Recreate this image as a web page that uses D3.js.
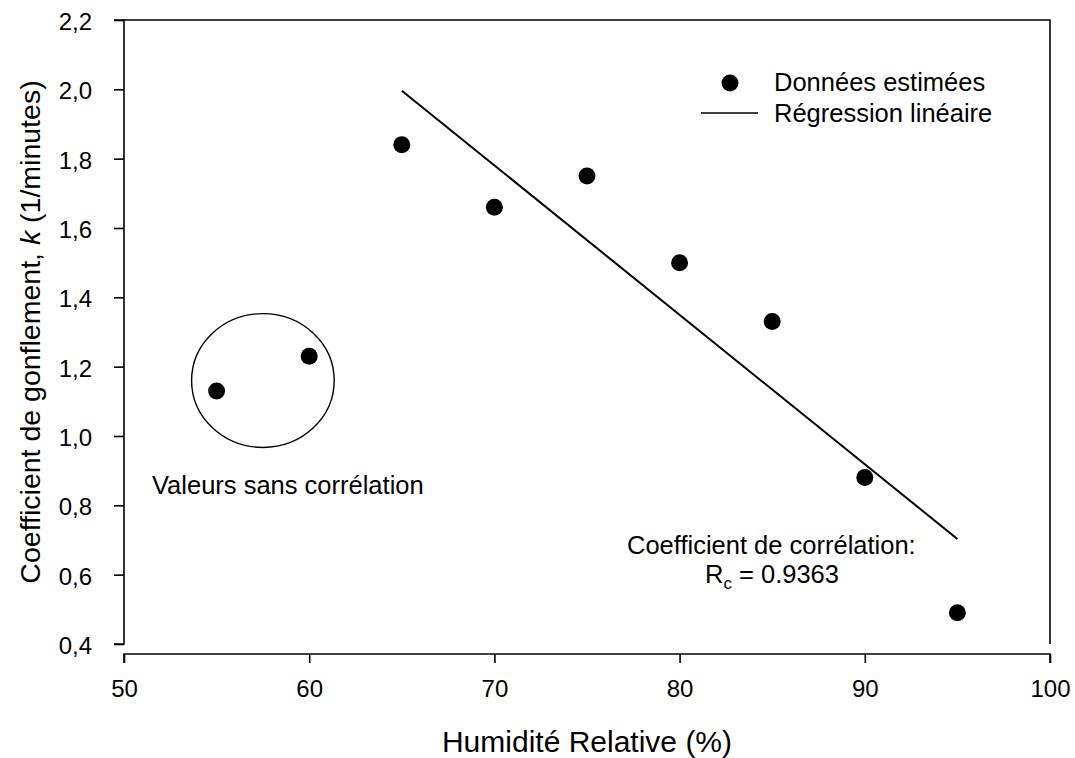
<!DOCTYPE html>
<html><head><meta charset="utf-8">
<script src="https://cdn.jsdelivr.net/npm/d3@7"></script>
<style>body{margin:0;background:#fff}svg{display:block}text{font-family:"Liberation Sans",Arial,sans-serif;fill:#000}</style>
</head><body>
<svg id="c" width="1075" height="758"></svg>
<script>
const humidity = [55, 60, 65, 70, 75, 80, 85, 90, 95];
const kValues = [1.13, 1.23, 1.84, 1.66, 1.75, 1.50, 1.33, 0.88, 0.49];
const regressionX = [65, 95];
const regressionY = [1.996, 0.703];
const xTicks = [50, 60, 70, 80, 90, 100];
const yTicks = [0.4, 0.6, 0.8, 1.0, 1.2, 1.4, 1.6, 1.8, 2.0, 2.2];
const circleCenter = [57.5, 1.16];
const circleRadius = [3.85, 0.193];

const svg = d3.select("#c");
const L = 124, R = 1050, T = 20, B = 644, XA = 654;
const FS = 24, AFS = 25.5;
const x = d3.scaleLinear().domain([50, 100]).range([L, R]);
const y = d3.scaleLinear().domain([0.4, 2.2]).range([B, T]);

// Y axis
const ya = svg.append("g").attr("transform", `translate(${L},0)`)
  .call(d3.axisLeft(y).tickValues(yTicks).tickSize(10).tickPadding(22)
    .tickFormat(d => d3.format(".1f")(d).replace(".", ",")));
ya.select(".domain").attr("d", `M-10,${T}H0V${B}H-10`).attr("stroke", "#000").attr("stroke-width", 1.6);
ya.selectAll(".tick line").attr("stroke-width", 1.6);
ya.selectAll("text").attr("font-size", FS).attr("font-family", "Liberation Sans, Arial, sans-serif").attr("dy", "0.4em");

// X axis
const xa = svg.append("g").attr("transform", `translate(0,${XA})`)
  .call(d3.axisBottom(x).tickValues(xTicks).tickSize(9).tickPadding(17));
xa.select(".domain").attr("d", `M${L},9V0H${R}V9`).attr("stroke", "#000").attr("stroke-width", 1.6);
xa.selectAll(".tick line").attr("stroke-width", 1.6);
xa.selectAll("text").attr("font-size", FS).attr("font-family", "Liberation Sans, Arial, sans-serif");

// Frame top & right
svg.append("path").attr("d", `M${L},${T}H${R}V${B}`).attr("fill", "none").attr("stroke", "#000").attr("stroke-width", 1.6);

// Regression line
svg.append("line")
  .attr("x1", x(regressionX[0])).attr("y1", y(regressionY[0]))
  .attr("x2", x(regressionX[1])).attr("y2", y(regressionY[1]))
  .attr("stroke", "#000").attr("stroke-width", 2);

// Points
svg.selectAll("circle.pt").data(humidity).join("circle").attr("class", "pt")
  .attr("cx", d => x(d)).attr("cy", (d, i) => y(kValues[i])).attr("r", 8.5).attr("fill", "#000");

// Ellipse
svg.append("ellipse")
  .attr("cx", x(circleCenter[0])).attr("cy", y(circleCenter[1]))
  .attr("rx", x(circleCenter[0] + circleRadius[0]) - x(circleCenter[0]))
  .attr("ry", y(circleCenter[1]) - y(circleCenter[1] + circleRadius[1]))
  .attr("fill", "none").attr("stroke", "#000").attr("stroke-width", 1.4);

// Annotations
svg.append("text").attr("x", 152).attr("y", 494).attr("font-size", AFS).text("Valeurs sans corrélation");
svg.append("text").attr("x", 627).attr("y", 554).attr("font-size", AFS).text("Coefficient de corrélation:");
const rc = svg.append("text").attr("x", 705).attr("y", 583).attr("font-size", AFS);
rc.append("tspan").text("R");
rc.append("tspan").attr("font-size", 17).attr("dy", 6).text("c");
rc.append("tspan").attr("dy", -6).text(" = 0.9363");

// Legend
svg.append("circle").attr("cx", 730).attr("cy", 83).attr("r", 8.5).attr("fill", "#000");
svg.append("text").attr("x", 774).attr("y", 91).attr("font-size", AFS).text("Données estimées");
svg.append("line").attr("x1", 701).attr("x2", 758).attr("y1", 113).attr("y2", 113).attr("stroke", "#000").attr("stroke-width", 1.6);
svg.append("text").attr("x", 774).attr("y", 122).attr("font-size", AFS).text("Régression linéaire");

// Axis titles
svg.append("text").attr("x", (L + R) / 2).attr("y", 752).attr("text-anchor", "middle").attr("font-size", 30).text("Humidité Relative (%)");
const yt = svg.append("text").attr("transform", `translate(40,${(T + B) / 2}) rotate(-90)`).attr("text-anchor", "middle").attr("font-size", 28.5);
yt.append("tspan").text("Coefficient de gonflement, ");
yt.append("tspan").attr("font-style", "italic").text("k");
yt.append("tspan").text(" (1/minutes)");
</script>
</body></html>
